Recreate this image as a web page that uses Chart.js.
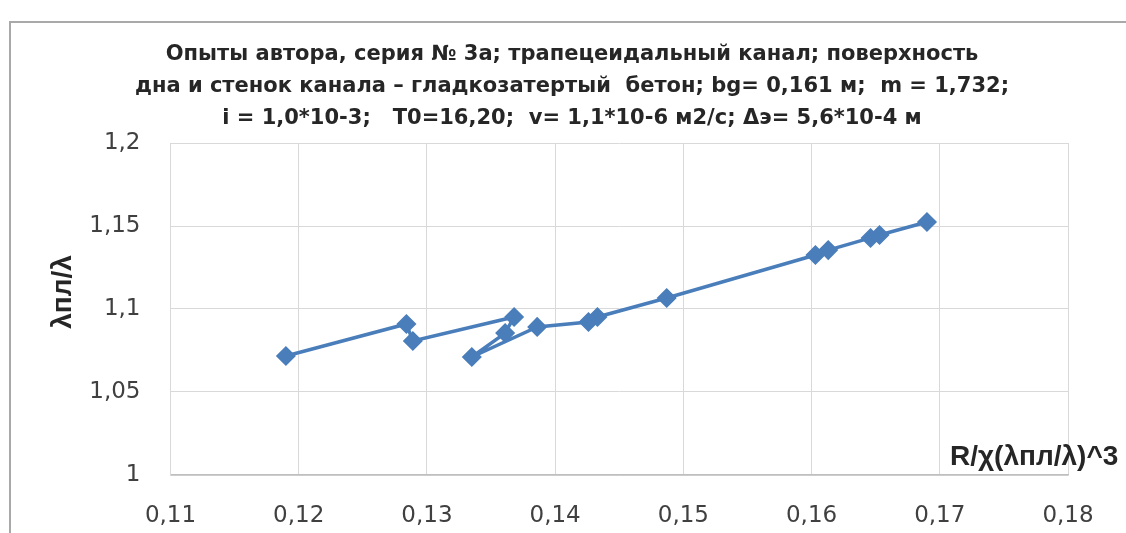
<!DOCTYPE html>
<html lang="ru">
<head>
<meta charset="utf-8">
<title>λпл/λ — серия № 3а</title>
<script src="https://cdn.jsdelivr.net/npm/chart.js@4.4.1/dist/chart.umd.min.js"></script>
<style>
  html, body { margin: 0; padding: 0; background: #ffffff; }
  #wrap { position: relative; width: 1126px; height: 533px; overflow: hidden; background: #ffffff; }
  #frame { position: absolute; left: 9px; top: 21px; right: -10px; bottom: -10px;
           border-left: 2px solid #a9a9a9; border-top: 2px solid #a9a9a9; }
  canvas { position: absolute; left: 0; top: 0; }
</style>
</head>
<body>
<div id="wrap">
  <div id="frame"></div>
  <canvas id="chart" width="1126" height="533"></canvas>
</div>
<script>
// Experimental series 3a: relative hydraulic resistance vs. reduced hydraulic radius
const xValues = [0.1190, 0.1284, 0.1289, 0.1368, 0.1361, 0.1335, 0.1386, 0.1426,
                 0.1433, 0.1487, 0.1603, 0.1613, 0.1646, 0.1653, 0.1690];
const yValues = [1.0717, 1.0910, 1.0807, 1.0952, 1.0855, 1.0711, 1.0892, 1.0922,
                 1.0952, 1.1066, 1.1325, 1.1355, 1.1428, 1.1446, 1.1524];

const xTicks = [0.11, 0.12, 0.13, 0.14, 0.15, 0.16, 0.17, 0.18];
const yTicks = [1, 1.05, 1.1, 1.15, 1.2];

const titleLines = [
  'Опыты автора, серия № 3а; трапецеидальный канал; поверхность',
  'дна и стенок канала – гладкозатертый  бетон; bg= 0,161 м;  m = 1,732;',
  'i = 1,0*10-3;   T0=16,20;  v= 1,1*10-6 м2/с; Δэ= 5,6*10-4 м'
];
const xTitle = 'R/χ(λпл/λ)^3';
const yTitle = 'λпл/λ';

const blue = '#4a7ebb';
const comma = v => String(v).replace('.', ',');

const points = xValues.map((x, i) => ({ x, y: yValues[i] }));

// Axis captions: y caption rotated at the far left, x caption inside the plot
// above its bottom-right corner
const axisCaptions = {
  id: 'axisCaptions',
  afterDraw(chart) {
    const { ctx, chartArea } = chart;
    ctx.save();
    ctx.font = 'bold 28px "Liberation Sans", Arial, sans-serif';
    ctx.fillStyle = '#262626';

    ctx.textAlign = 'left';
    ctx.textBaseline = 'alphabetic';
    ctx.fillText(xTitle, chartArea.right - 118, chartArea.bottom - 10);

    ctx.translate(63, 292);
    ctx.rotate(-Math.PI / 2);
    ctx.textAlign = 'center';
    ctx.textBaseline = 'middle';
    ctx.fillText(yTitle, 0, 0);
    ctx.restore();
  }
};

new Chart(document.getElementById('chart'), {
  type: 'scatter',
  data: {
    datasets: [{
      data: points,
      showLine: true,
      borderColor: blue,
      borderWidth: 3.5,
      backgroundColor: blue,
      pointStyle: 'rectRot',
      pointRadius: 9,
      pointBorderWidth: 1.5,
      pointBorderColor: blue,
      pointBackgroundColor: blue,
      tension: 0
    }]
  },
  options: {
    responsive: false,
    animation: false,
    layout: { padding: { left: 76, right: 58, top: 0, bottom: 0 } },
    plugins: {
      legend: { display: false },
      tooltip: { enabled: false },
      title: {
        display: true,
        text: titleLines,
        color: '#262626',
        font: { family: '"DejaVu Sans", sans-serif', size: 21, weight: 'bold', lineHeight: '32px' },
        padding: { top: 39, bottom: 8 }
      }
    },
    scales: {
      x: {
        type: 'linear',
        min: 0.11,
        max: 0.18,
        afterBuildTicks: s => { s.ticks = xTicks.map(v => ({ value: v })); },
        afterFit: s => { s.height = 58; },
        ticks: {
          color: '#404040',
          font: { family: '"DejaVu Sans", sans-serif', size: 23 },
          padding: 27,
          callback: v => comma(v)
        },
        grid: { color: '#d9d9d9', lineWidth: 1, drawTicks: false },
        border: { color: '#bfbfbf', width: 1.5 }
      },
      y: {
        type: 'linear',
        min: 1,
        max: 1.2,
        afterBuildTicks: s => { s.ticks = yTicks.map(v => ({ value: v })); },
        afterFit: s => { s.width = 94.5; },
        ticks: {
          color: '#404040',
          font: { family: '"DejaVu Sans", sans-serif', size: 23 },
          padding: 30,
          callback: v => comma(v)
        },
        grid: { color: '#d9d9d9', lineWidth: 1, drawTicks: false },
        border: { color: '#d9d9d9', width: 1 }
      }
    }
  },
  plugins: [axisCaptions]
});
</script>
</body>
</html>
